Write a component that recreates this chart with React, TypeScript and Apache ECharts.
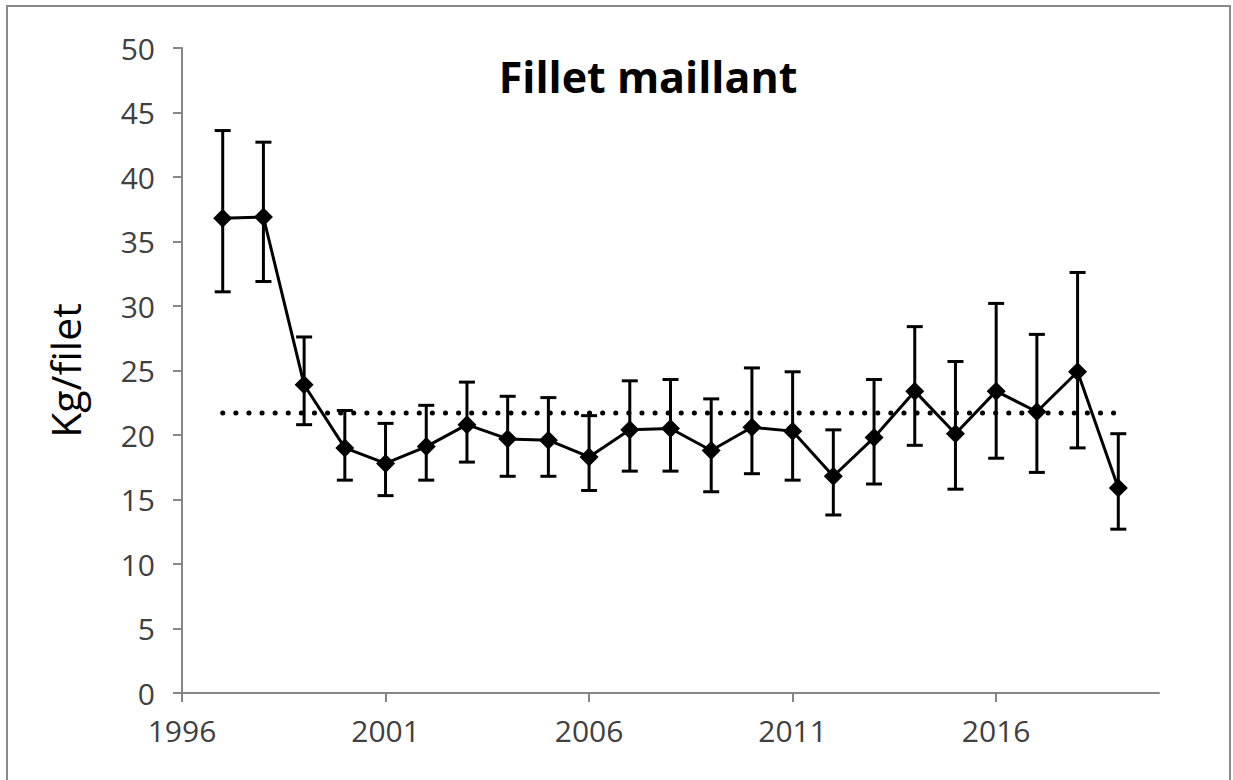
import React, { useEffect, useRef } from "react";
import * as echarts from "echarts";

const categories = [
  "1996", "1997", "1998", "1999", "2000", "2001", "2002", "2003", "2004",
  "2005", "2006", "2007", "2008", "2009", "2010", "2011", "2012", "2013",
  "2014", "2015", "2016", "2017", "2018", "2019", "2020",
];
const years = [
  "1997", "1998", "1999", "2000", "2001", "2002", "2003", "2004", "2005",
  "2006", "2007", "2008", "2009", "2010", "2011", "2012", "2013", "2014",
  "2015", "2016", "2017", "2018", "2019",
];
const means = [
  36.8, 36.9, 23.9, 19.0, 17.8, 19.1, 20.8, 19.7, 19.6,
  18.3, 20.4, 20.5, 18.8, 20.6, 20.3, 16.8, 19.8, 23.4,
  20.1, 23.4, 21.8, 24.9, 15.9,
];
const upper = [
  43.6, 42.7, 27.6, 21.9, 20.9, 22.3, 24.1, 23.0, 22.9,
  21.5, 24.2, 24.3, 22.8, 25.2, 24.9, 20.4, 24.3, 28.4,
  25.7, 30.2, 27.8, 32.6, 20.1,
];
const lower = [
  31.1, 31.9, 20.8, 16.5, 15.3, 16.5, 17.9, 16.8, 16.8,
  15.7, 17.2, 17.2, 15.6, 17.0, 16.5, 13.8, 16.2, 19.2,
  15.8, 18.2, 17.1, 19.0, 12.7,
];
const overallMean = 21.7;
const yTicks = { min: 0, max: 50, interval: 5 };
const titleText = "Fillet maillant";
const yName = "Kg/filet";

export default function App() {
  const ref = useRef<HTMLDivElement>(null);
  useEffect(() => {
    if (!ref.current) return;
    const chart = echarts.init(ref.current, null, { renderer: "svg" });
    const textColor = "#404040";
    const axisColor = "#868686";
    const font = "'Open Sans', Calibri, sans-serif";
    chart.setOption({
      animation: false,
      backgroundColor: "#ffffff",
      title: {
        text: titleText,
        left: 643,
        top: 50,
        textAlign: "center",
        textStyle: { fontFamily: font, fontWeight: "bold", fontSize: 43, color: "#000" },
      },
      graphic: [
        {
          type: "rect",
          shape: { x: 7, y: 6, width: 1223, height: 800 },
          style: { fill: "none", stroke: "#8a8a8a", lineWidth: 2 },
          z: 100,
        },
      ],
      grid: { left: 182, top: 48, width: 977, height: 645 },
      xAxis: {
        type: "category",
        data: categories,
        boundaryGap: false,
        axisLine: { lineStyle: { color: axisColor, width: 2 } },
        axisTick: { interval: 4, length: 9, lineStyle: { color: axisColor, width: 2 } },
        axisLabel: {
          interval: 4,
          margin: 22,
          fontFamily: font,
          fontSize: 30,
          color: textColor,
        },
        splitLine: { show: false },
      },
      yAxis: {
        type: "value",
        min: yTicks.min,
        max: yTicks.max,
        interval: yTicks.interval,
        name: yName,
        nameLocation: "middle",
        nameGap: 97,
        nameTextStyle: { fontFamily: font, fontSize: 41, color: "#000" },
        axisLine: { show: true, lineStyle: { color: axisColor, width: 2 } },
        axisTick: { show: true, length: 9, lineStyle: { color: axisColor, width: 2 } },
        axisLabel: { margin: 27, fontFamily: font, fontSize: 30, color: textColor },
        splitLine: { show: false },
      },
      series: [
        {
          type: "line",
          data: [
            [years[0], overallMean],
            [years[years.length - 1], overallMean],
          ],
          symbol: "none",
          lineStyle: { color: "#000", width: 5, type: [0.1, 13], cap: "round" },
          z: 1,
        },
        {
          type: "custom",
          data: years.map((y, i) => [y, lower[i], upper[i]]),
          renderItem: (params: any, api: any) => {
            const x = api.value(0);
            const lo = api.coord([x, api.value(1)]);
            const hi = api.coord([x, api.value(2)]);
            const hw = 8;
            const style = { stroke: "#000", lineWidth: 3, fill: "none" };
            return {
              type: "group",
              children: [
                { type: "line", shape: { x1: lo[0], y1: lo[1], x2: hi[0], y2: hi[1] }, style },
                { type: "line", shape: { x1: hi[0] - hw, y1: hi[1], x2: hi[0] + hw, y2: hi[1] }, style },
                { type: "line", shape: { x1: lo[0] - hw, y1: lo[1], x2: lo[0] + hw, y2: lo[1] }, style },
              ],
            };
          },
          z: 2,
        },
        {
          type: "line",
          data: years.map((y, i) => [y, means[i]]),
          symbol: "diamond",
          symbolSize: [19, 19],
          itemStyle: { color: "#000" },
          lineStyle: { color: "#000", width: 3 },
          z: 3,
        },
      ],
    });
    return () => chart.dispose();
  }, []);
  return (
    <div
      ref={ref}
      style={{ position: "fixed", left: 0, top: 0, width: 1233, height: 780 }}
    />
  );
}
